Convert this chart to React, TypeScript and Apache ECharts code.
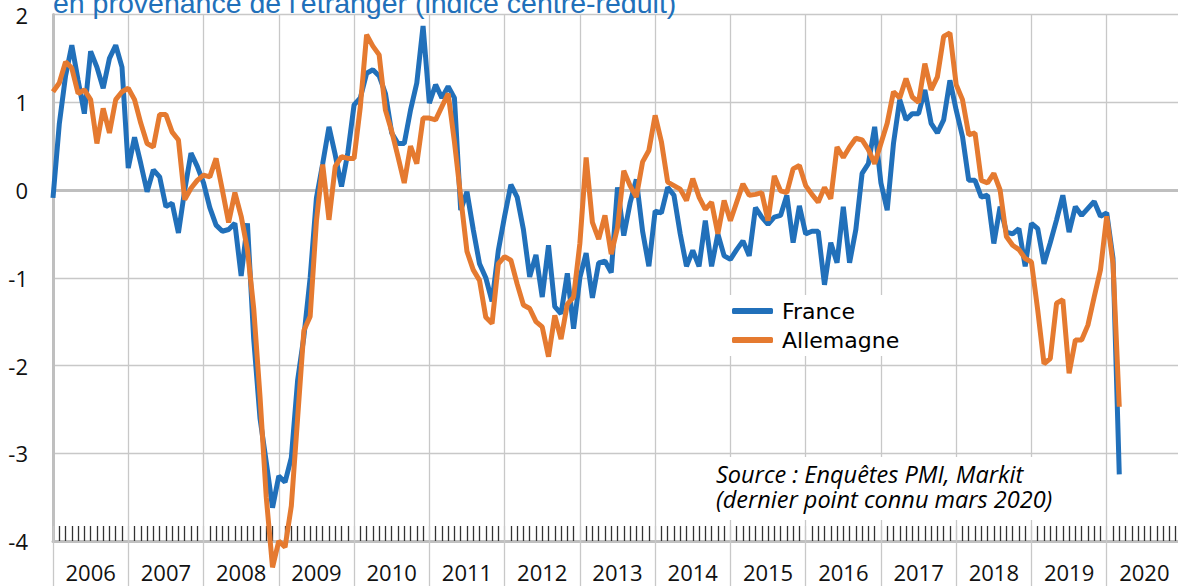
import React, { useEffect, useRef } from 'react';
import * as echarts from 'echarts';

const firstYear = 2006;
const monthsOnAxis = 180; // Jan 2006 .. Dec 2020
const yMin = -4;
const yMax = 2;

const titleText = "en provenance de l'étranger (indice centré-réduit)";
const sourceLines = ['Source : Enquêtes PMI, Markit', '(dernier point connu mars 2020)'];
const seriesNames = ['France', 'Allemagne'];

// Monthly values, Jan 2006 .. Mar 2020
const france = [
  -0.09, 0.75, 1.3, 1.65, 1.25, 0.87, 1.58, 1.4, 1.16, 1.5, 1.65, 1.4,
  0.25, 0.6, 0.3, -0.02, 0.23, 0.15, -0.19, -0.15, -0.49, 0.0, 0.42, 0.27,
  0.08, -0.2, -0.4, -0.47, -0.45, -0.38, -0.98, -0.38, -1.7, -2.6, -3.1, -3.62,
  -3.26, -3.33, -3.05, -2.17, -1.67, -1.0, -0.09, 0.3, 0.72, 0.4, 0.04, 0.42,
  0.97, 1.05, 1.33, 1.37, 1.3, 1.1, 0.65, 0.53, 0.53, 0.91, 1.22, 1.87,
  0.99, 1.2, 1.05, 1.18, 1.05, -0.23, -0.02, -0.45, -0.84, -1.0, -1.27, -0.69,
  -0.3, 0.06, -0.08, -0.45, -0.99, -0.74, -1.22, -0.63, -1.33, -1.41, -0.95, -1.58,
  -1.0, -0.72, -1.23, -0.83, -0.81, -0.94, 0.03, -0.52, -0.15, 0.12, -0.47, -0.87,
  -0.24, -0.26, 0.03, -0.06, -0.5, -0.87, -0.69, -0.87, -0.35, -0.87, -0.5, -0.75,
  -0.79, -0.68, -0.58, -0.75, -0.2, -0.31, -0.39, -0.31, -0.29, -0.06, -0.6, -0.18,
  -0.5, -0.47, -0.47, -1.08, -0.6, -0.83, -0.19, -0.83, -0.45, 0.19, 0.3, 0.72,
  0.08, -0.23, 0.53, 1.03, 0.8, 0.87, 0.87, 1.14, 0.76, 0.65, 0.8, 1.25,
  0.91, 0.61, 0.11, 0.11, -0.08, -0.06, -0.61, -0.19, -0.48, -0.5, -0.44, -0.87,
  -0.38, -0.44, -0.84, -0.6, -0.34, -0.06, -0.48, -0.19, -0.29, -0.21, -0.13, -0.3,
  -0.26, -0.78, -3.24,
];

const allemagne = [
  1.12, 1.22, 1.46, 1.39, 1.1, 1.14, 1.03, 0.53, 0.93, 0.65, 1.03, 1.12,
  1.16, 1.03, 0.76, 0.53, 0.49, 0.86, 0.86, 0.66, 0.57, -0.11, 0.02, 0.11,
  0.17, 0.15, 0.36, 0.0, -0.37, -0.03, -0.3, -0.68, -1.35, -2.35, -3.5, -4.3,
  -4.0, -4.07, -3.6, -2.6, -1.6, -1.44, -0.35, 0.29, -0.34, 0.27, 0.38, 0.36,
  0.36, 0.95, 1.77, 1.64, 1.54, 0.91, 0.67, 0.38, 0.08, 0.5, 0.3, 0.82,
  0.82, 0.8, 0.95, 1.1, 0.55, -0.08, -0.7, -0.91, -1.03, -1.45, -1.52, -0.84,
  -0.76, -0.8, -1.07, -1.31, -1.35, -1.5, -1.56, -1.9, -1.43, -1.7, -1.3, -1.22,
  -0.61, 0.37, -0.37, -0.56, -0.29, -0.73, -0.43, 0.22, 0.05, -0.08, 0.32, 0.45,
  0.85, 0.55, 0.09, 0.05, 0.01, -0.12, 0.13, -0.08, -0.22, -0.14, -0.5, -0.12,
  -0.35, -0.14, 0.07, -0.06, -0.05, -0.03, -0.35, 0.16, -0.01, -0.03, 0.24, 0.28,
  0.05, -0.05, -0.14, 0.03, -0.1, 0.49, 0.37, 0.49, 0.59, 0.57, 0.46, 0.3,
  0.53, 0.76, 1.12, 1.05, 1.27, 1.06, 1.0, 1.44, 1.14, 1.29, 1.75, 1.79,
  1.2, 1.03, 0.63, 0.65, 0.11, 0.08, 0.19, 0.0, -0.53, -0.63, -0.68, -0.78,
  -0.82, -1.37, -1.98, -1.92, -1.29, -1.25, -2.09, -1.71, -1.71, -1.54, -1.22, -0.91,
  -0.3, -0.84, -2.47,
];

const BLUE = '#2170BA';
const ORANGE = '#E57A30';
const GRID = '#c8c8c8';
const AXIS = '#bfbfbf';

export default function App() {
  const ref = useRef<HTMLDivElement>(null);

  useEffect(() => {
    if (!ref.current) return;
    const chart = echarts.init(ref.current, null, { renderer: 'svg' });
    const toPairs = (arr: number[]) => arr.map((v, i) => [i, v]);

    const option: any = {
      animation: false,
      backgroundColor: '#ffffff',
      grid: {
        left: 53,
        right: -4,
        top: 14.5,
        bottom: 45,
        containLabel: false,
        outerBoundsMode: 'none',
      },
      xAxis: [
        {
          type: 'value',
          min: 0,
          max: monthsOnAxis,
          interval: 12,
          position: 'bottom',
          axisLine: { show: true, onZero: false, lineStyle: { color: AXIS, width: 3 } },
          axisTick: { show: true, inside: false, length: 45, lineStyle: { color: GRID, width: 1.3 } },
          axisLabel: { show: false },
          splitLine: { show: true, lineStyle: { color: GRID, width: 1.3 } },
        },
        {
          type: 'value',
          min: 0,
          max: monthsOnAxis,
          interval: 12,
          position: 'bottom',
          axisLine: { show: false, onZero: false },
          axisTick: { show: true, inside: true, length: 15, lineStyle: { color: GRID, width: 1.3 } },
          minorTick: { show: true, splitNumber: 12, length: 15, lineStyle: { color: '#333333', width: 1.3 } },
          axisLabel: { show: false },
          splitLine: { show: false },
        },
        {
          type: 'value',
          min: 0,
          max: monthsOnAxis,
          interval: 6,
          position: 'bottom',
          axisLine: { show: false, onZero: false },
          axisTick: { show: false },
          axisLabel: {
            show: true,
            margin: 20,
            fontSize: 22,
            lineHeight: 22,
            fontFamily: 'Open Sans',
            color: '#111',
            formatter: (v: number) => (v % 12 === 6 ? String(firstYear + (v - 6) / 12) : ''),
          },
          splitLine: { show: false },
        },
        {
          type: 'value',
          min: 0,
          max: monthsOnAxis,
          position: 'bottom',
          axisLine: { show: true, onZero: true, lineStyle: { color: AXIS, width: 3 } },
          axisTick: { show: false },
          axisLabel: { show: false },
          splitLine: { show: false },
        },
      ],
      yAxis: {
        type: 'value',
        min: yMin,
        max: yMax,
        interval: 1,
        axisLine: { show: true, onZero: false, lineStyle: { color: AXIS, width: 3 } },
        axisTick: { show: false },
        axisLabel: { margin: 25, fontSize: 22, fontFamily: 'Open Sans', color: '#111' },
        splitLine: { show: true, lineStyle: { color: GRID, width: 1.3 } },
      },
      legend: {
        data: seriesNames,
        orient: 'vertical',
        left: 727,
        top: 295,
        itemWidth: 41,
        itemHeight: 6,
        itemGap: 7,
        icon: 'roundRect',
        backgroundColor: '#ffffff',
        padding: [5, 10, 5, 5],
        textStyle: {
          fontFamily: 'DejaVu Sans',
          fontSize: 22,
          lineHeight: 22,
          color: '#000',
          padding: [0, 0, 0, 4],
        },
      },
      series: [
        {
          name: seriesNames[0],
          type: 'line',
          xAxisIndex: 0,
          yAxisIndex: 0,
          data: toPairs(france),
          symbol: 'none',
          clip: false,
          lineStyle: { width: 5, color: BLUE },
          itemStyle: { color: BLUE },
          z: 3,
        },
        {
          name: seriesNames[1],
          type: 'line',
          xAxisIndex: 0,
          yAxisIndex: 0,
          data: toPairs(allemagne),
          symbol: 'none',
          clip: false,
          lineStyle: { width: 5, color: ORANGE },
          itemStyle: { color: ORANGE },
          z: 4,
        },
      ],
      graphic: [
        {
          type: 'text',
          x: 53,
          y: 3,
          z: 10,
          style: {
            text: titleText,
            fill: BLUE,
            fontSize: 28.5,
            fontFamily: 'Liberation Sans',
            verticalAlign: 'middle',
            align: 'left',
          },
        },
        {
          type: 'rect',
          z: 1,
          shape: { x: 712, y: 457, width: 346, height: 63 },
          style: { fill: '#ffffff' },
        },
        {
          type: 'text',
          x: 716,
          y: 461,
          z: 2,
          style: {
            text: sourceLines.join('\n'),
            fill: '#000',
            fontSize: 23.5,
            lineHeight: 25,
            fontStyle: 'italic',
            fontFamily: 'Open Sans',
            verticalAlign: 'top',
            align: 'left',
          },
        },
      ],
    };

    chart.setOption(option);
    return () => chart.dispose();
  }, []);

  return (
    <div
      ref={ref}
      style={{ position: 'fixed', left: 0, top: 0, width: 1178, height: 586, background: '#fff' }}
    />
  );
}
